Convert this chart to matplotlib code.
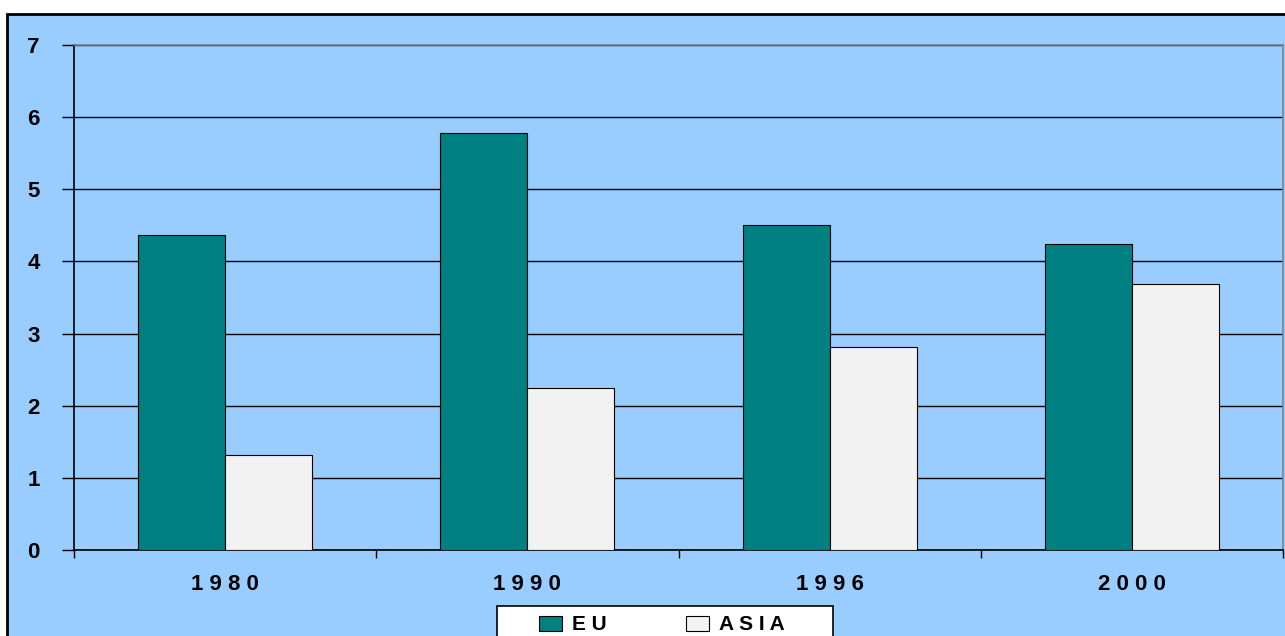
import matplotlib
matplotlib.use("Agg")
import matplotlib.pyplot as plt
from matplotlib.patches import Rectangle
import numpy as np

## data
years = ["1 9 8 0", "1 9 9 0", "1 9 9 6", "2 0 0 0"]
eu = [4.37, 5.78, 4.51, 4.24]
asia = [1.32, 2.25, 2.82, 3.69]
series_names = ["E U", "A S I A"]

blue = "#99CCFF"
plt.rcParams['font.family'] = ['Liberation Sans', 'DejaVu Sans']

fig = plt.figure(figsize=(12.85, 6.36), dpi=100, facecolor="white")
## chart area background with black border (top strip stays white)
fig.patches.append(Rectangle((7 / 1285, -0.05), 1.1, (636 - 14) / 636 + 0.05,
                             transform=fig.transFigure, facecolor=blue,
                             edgecolor="black", lw=2, zorder=-5))

ax = fig.add_axes([74 / 1285, (636 - 550) / 636, 1209 / 1285, 505 / 636])
ax.set_zorder(2)
ax.set_facecolor(blue)

x = np.arange(len(years))
w = 0.288
ax.bar(x - w / 2, eu, w, color="#008080", edgecolor="black", lw=0.8,
       label=series_names[0], zorder=3)
ax.bar(x + w / 2, asia, w, color="#F2F2F2", edgecolor="black", lw=0.8,
       label=series_names[1], zorder=3)

ax.set_xlim(-0.5, len(years) - 0.5)
ax.set_ylim(0, 7)
ax.set_yticks(range(8))
ax.yaxis.grid(True, color="black", lw=1, zorder=1)
ax.set_axisbelow(True)

## x ticks sit between the categories, labels in the middle
ax.set_xticks(np.arange(len(years) + 1) - 0.5)
ax.set_xticklabels([])
ax.set_xticks(x, minor=True)
ax.set_xticklabels(years, minor=True, fontsize=16, fontweight="bold")
ax.tick_params(axis="x", which="minor", length=0, pad=17)
ax.tick_params(axis="x", which="major", length=6, width=1, direction="out")
ax.tick_params(axis="y", length=8.6, width=1, direction="out", labelsize=16, pad=16)
for lab in ax.get_yticklabels():
    lab.set_fontweight("bold")

ax.spines["left"].set_color("black")
ax.spines["bottom"].set_color("black")
ax.spines["top"].set_color("#808080")
ax.spines["right"].set_color("#808080")
for s in ax.spines.values():
    s.set_linewidth(1.2)

## legend box (runs off the bottom edge like the original)
fig.patches.append(Rectangle((497 / 1285, -0.05), 336 / 1285, 30 / 636 + 0.05,
                             transform=fig.transFigure, facecolor="white",
                             edgecolor="black", lw=1.2, zorder=3))
leg = fig.legend(loc="center", bbox_to_anchor=(662 / 1285, 11 / 636),
                 ncol=2, frameon=False, handlelength=1.1,
                 handleheight=0.7, columnspacing=3.8, handletextpad=0.5,
                 borderpad=0.0, prop={"size": 15, "weight": "bold"})
leg.set_zorder(4)

fig.savefig("out.png", dpi=100, facecolor=fig.get_facecolor())
